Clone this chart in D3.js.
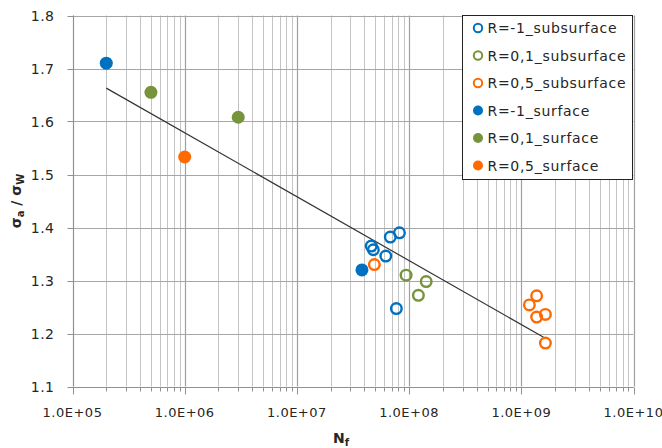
<!DOCTYPE html>
<html>
<head>
<meta charset="utf-8">
<script src="https://cdn.jsdelivr.net/npm/d3@7"></script>
<style>
body { margin: 0; background: #fff; }
svg text { font-family: "DejaVu Sans", sans-serif; fill: #262626; }
</style>
</head>
<body>
<svg id="chart" width="662" height="448"></svg>
<script>
// series
var series_names = ["R=-1_subsurface", "R=0,1_subsurface", "R=0,5_subsurface",
                    "R=-1_surface", "R=0,1_surface", "R=0,5_surface"];
var series_colors = ["#0070c0", "#77933c", "#ff6a00", "#0070c0", "#77933c", "#ff6a00"];
var series_filled = [false, false, false, true, true, true];

var sub_m1_x = [4.6e7, 4.8e7, 6.2e7, 6.8e7, 8.2e7, 7.7e7];
var sub_m1_y = [1.365, 1.358, 1.346, 1.382, 1.390, 1.247];
var sub_01_x = [9.4e7, 1.42e8, 1.21e8];
var sub_01_y = [1.310, 1.298, 1.272];
var sub_05_x = [4.9e7, 1.37e9, 1.18e9, 1.37e9, 1.64e9, 1.64e9];
var sub_05_y = [1.330, 1.271, 1.254, 1.231, 1.236, 1.182];
var surf_m1_x = [2.0e5, 3.8e7];
var surf_m1_y = [1.710, 1.320];
var surf_01_x = [5.0e5, 3.0e6];
var surf_01_y = [1.655, 1.608];
var surf_05_x = [1.0e6];
var surf_05_y = [1.533];

// trend line end points
var trend_x = [2.0e5, 1.58e9];
var trend_y = [1.663, 1.193];

var x_ticks = [1e5, 1e6, 1e7, 1e8, 1e9, 1e10];
var y_ticks = [1.1, 1.2, 1.3, 1.4, 1.5, 1.6, 1.7, 1.8];

var series_x = [sub_m1_x, sub_01_x, sub_05_x, surf_m1_x, surf_01_x, surf_05_x];
var series_y = [sub_m1_y, sub_01_y, sub_05_y, surf_m1_y, surf_01_y, surf_05_y];

var margin = {left: 72.5, top: 15.5, right: 28.5, bottom: 61.5};
var width = 662, height = 448;

var svg = d3.select("#chart");

var x = d3.scaleLog()
    .domain([1e5, 1e10])
    .range([margin.left, width - margin.right]);

var y = d3.scaleLinear()
    .domain([1.1, 1.8])
    .range([height - margin.bottom, margin.top]);

// minor vertical grid
var minor = [];
for (var e = 5; e < 10; e++){
    for (var m = 2; m < 10; m++) minor.push(m * Math.pow(10, e));
}

var px = function(v){ return Math.round(v) + 0.5; };

var grid = svg.append("g");
grid.selectAll(".minor")
    .data(minor)
    .enter().append("line")
    .attr("x1", function(d){ return px(x(d)); })
    .attr("x2", function(d){ return px(x(d)); })
    .attr("y1", y(1.8))
    .attr("y2", y(1.1))
    .attr("stroke", "#c4c4c4")
    .attr("stroke-width", 1);

grid.selectAll(".major")
    .data(x_ticks)
    .enter().append("line")
    .attr("x1", function(d){ return px(x(d)); })
    .attr("x2", function(d){ return px(x(d)); })
    .attr("y1", y(1.8))
    .attr("y2", y(1.1))
    .attr("stroke", "#a0a0a0")
    .attr("stroke-width", 1.2);

grid.selectAll(".hline")
    .data(y_ticks)
    .enter().append("line")
    .attr("x1", x(1e5))
    .attr("x2", x(1e10))
    .attr("y1", function(d){ return px(y(d)); })
    .attr("y2", function(d){ return px(y(d)); })
    .attr("stroke", "#a6a6a6")
    .attr("stroke-width", 1.2);

// axes
var xAxis = svg.append("g")
    .attr("transform", "translate(0," + px(y(1.1)) + ")");
xAxis.selectAll(".tmin")
    .data(minor)
    .enter().append("line")
    .attr("x1", function(d){ return px(x(d)); })
    .attr("x2", function(d){ return px(x(d)); })
    .attr("y1", 0).attr("y2", 4)
    .attr("stroke", "#909090");
xAxis.selectAll(".tmaj")
    .data(x_ticks)
    .enter().append("line")
    .attr("x1", function(d){ return px(x(d)); })
    .attr("x2", function(d){ return px(x(d)); })
    .attr("y1", 0).attr("y2", 7)
    .attr("stroke", "#909090");
xAxis.append("line")
    .attr("x1", x(1e5)).attr("x2", x(1e10))
    .attr("stroke", "#909090");
xAxis.selectAll("text")
    .data(x_ticks)
    .enter().append("text")
    .attr("x", function(d){ return x(d); })
    .attr("y", 29)
    .attr("text-anchor", "middle")
    .attr("font-size", 13)
    .attr("letter-spacing", 0.5)
    .text(function(d){
        return "1.0E+" + d3.format("02d")(Math.round(Math.log10(d)));
    });

var yAxis = svg.append("g")
    .attr("transform", "translate(" + px(x(1e5)) + ",0)");
yAxis.append("line")
    .attr("y1", y(1.8)).attr("y2", y(1.1))
    .attr("stroke", "#909090");
yAxis.selectAll(".t")
    .data(y_ticks)
    .enter().append("line")
    .attr("x1", -6).attr("x2", 0)
    .attr("y1", function(d){ return px(y(d)); })
    .attr("y2", function(d){ return px(y(d)); })
    .attr("stroke", "#909090");
yAxis.selectAll("text")
    .data(y_ticks)
    .enter().append("text")
    .attr("x", -19)
    .attr("y", function(d){ return y(d) + 5; })
    .attr("text-anchor", "end")
    .attr("font-size", 14)
    .attr("letter-spacing", 0.5)
    .text(d3.format(".1f"));

// trend line
var line = d3.line()
    .x(function(d){ return x(d[0]); })
    .y(function(d){ return y(d[1]); });
svg.append("path")
    .datum(d3.zip(trend_x, trend_y))
    .attr("d", line)
    .attr("fill", "none")
    .attr("stroke", "#333")
    .attr("stroke-width", 1.2);

// points
series_names.forEach(function(name, i){
    var pts = d3.zip(series_x[i], series_y[i]);
    svg.append("g").selectAll("circle")
        .data(pts)
        .enter().append("circle")
        .attr("cx", function(d){ return x(d[0]); })
        .attr("cy", function(d){ return y(d[1]); })
        .attr("r", series_filled[i] ? 6.5 : 5.3)
        .attr("fill", series_filled[i] ? series_colors[i] : "none")
        .attr("stroke", series_filled[i] ? "none" : series_colors[i])
        .attr("stroke-width", 2.4);
});

// legend
var leg = svg.append("g").attr("transform", "translate(462.5,15.5)");
leg.append("rect")
    .attr("width", 170).attr("height", 164)
    .attr("fill", "#fff")
    .attr("stroke", "#222");
var items = leg.selectAll(".item")
    .data(series_names)
    .enter().append("g")
    .attr("transform", function(d, i){ return "translate(0," + (12.5 + i * 27.5) + ")"; });
items.append("circle")
    .attr("cx", 15.5)
    .attr("r", function(d, i){ return series_filled[i] ? 5 : 4.2; })
    .attr("fill", function(d, i){ return series_filled[i] ? series_colors[i] : "none"; })
    .attr("stroke", function(d, i){ return series_filled[i] ? "none" : series_colors[i]; })
    .attr("stroke-width", 2);
items.append("text")
    .attr("x", 25)
    .attr("y", 5)
    .attr("font-size", 14)
    .attr("letter-spacing", 0.7)
    .text(function(d){ return d; });

// axis titles
var yt = svg.append("text")
    .attr("transform", "translate(21," + y(1.45) + ") rotate(-90)")
    .attr("text-anchor", "middle")
    .attr("font-size", 14)
    .attr("font-weight", "bold");
yt.append("tspan").text("σ");
yt.append("tspan").attr("font-size", 10).attr("dy", 3).text("a");
yt.append("tspan").attr("dy", -3).text(" / σ");
yt.append("tspan").attr("font-size", 10).attr("dy", 3).text("W");

var xt = svg.append("text")
    .attr("x", 341)
    .attr("y", 443)
    .attr("text-anchor", "middle")
    .attr("font-size", 14)
    .attr("font-weight", "bold");
xt.append("tspan").text("N");
xt.append("tspan").attr("font-size", 10).attr("dy", 3).text("f");
</script>
</body>
</html>
